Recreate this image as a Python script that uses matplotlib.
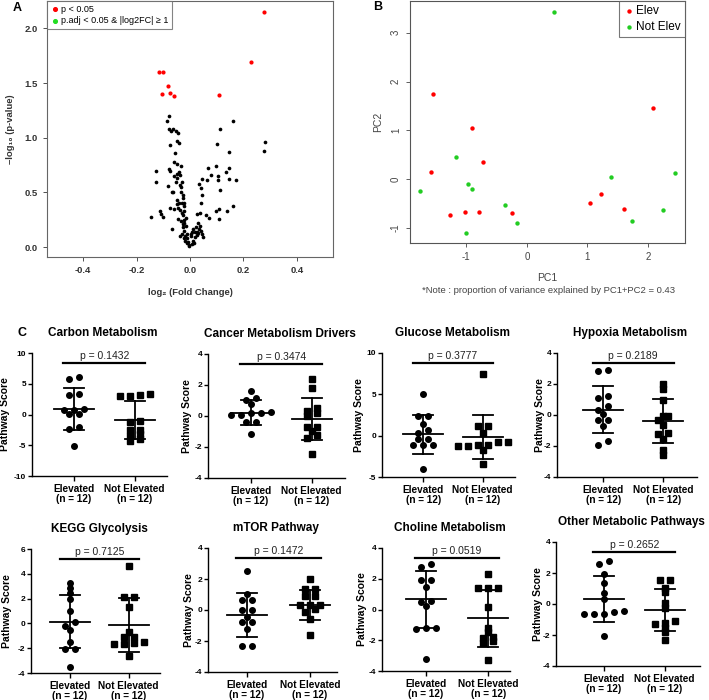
import numpy as np
import matplotlib
matplotlib.use('Agg')
import matplotlib.pyplot as plt
import matplotlib.transforms as mtransforms

plt.rcParams['font.family'] = ['Liberation Sans', 'DejaVu Sans']
plt.rcParams['axes.unicode_minus'] = False

W, H = 709, 700

# ---------------- A: volcano data ----------------
sig_fc = [0.276, 0.227, -0.117, -0.100, -0.083, -0.103, -0.074, -0.058, 0.109]
sig_p = [2.15, 1.69, 1.60, 1.60, 1.47, 1.40, 1.41, 1.38, 1.39]

ns_fc = [-0.079, -0.085, -0.077, -0.070, -0.062, -0.054, -0.044, -0.050, -0.042, -0.073,
         -0.057, -0.058, -0.049, -0.079, -0.074, -0.033, -0.129, -0.126, -0.050, -0.060,
         -0.047, -0.054, -0.039, -0.034, -0.081, -0.068, -0.063, -0.032, -0.049, -0.042,
         -0.047, -0.030, -0.024, -0.022, -0.076, -0.061, -0.114, -0.109, -0.102, -0.146,
         -0.066, -0.044, -0.039, -0.030, -0.027, -0.022, -0.045, -0.035, -0.024, -0.028,
         -0.021, -0.026, -0.022, -0.016, -0.030, -0.036, -0.021, -0.017, -0.011, -0.005,
         -0.003, -0.013, -0.018, -0.015, -0.031, -0.028, -0.025, -0.040, -0.036, -0.010,
         -0.008,
         0.161, 0.113, 0.101, 0.146, 0.280, 0.278, 0.067, 0.096, 0.145, 0.135,
         0.079, 0.106, 0.173, 0.044, 0.064, 0.105, 0.146, 0.034, 0.040, 0.111,
         0.044, 0.042, 0.161, 0.109, 0.096, 0.139, 0.025, 0.036, 0.059, 0.072,
         0.107, 0.030, 0.038, 0.033, 0.043, 0.046, 0.050, 0.022, 0.018, 0.012,
         0.027, 0.020, 0.010, 0.015, 0.006, 0.025, 0.031, 0.005, 0.008, 0.002]
ns_p = [1.20, 1.15, 1.08, 1.06, 1.08, 1.06, 1.04, 0.97, 0.95, 0.93,
        0.86, 0.78, 0.76, 0.71, 0.70, 0.74, 0.70, 0.60, 0.67, 0.65,
        0.63, 0.60, 0.57, 0.55, 0.56, 0.50, 0.50, 0.50, 0.43, 0.40,
        0.39, 0.40, 0.40, 0.38, 0.36, 0.35, 0.33, 0.30, 0.28, 0.28,
        0.17, 0.36, 0.34, 0.31, 0.29, 0.33, 0.26, 0.24, 0.25, 0.21,
        0.22, 0.18, 0.15, 0.19, 0.12, 0.10, 0.08, 0.06, 0.04, 0.01,
        0.02, 0.12, 0.10, 0.27, 0.60, 0.48, 0.45, 0.69, 0.66, 0.08,
        0.05,
        1.15, 1.08, 0.94, 0.87, 0.96, 0.88, 0.72, 0.74, 0.72, 0.69,
        0.66, 0.65, 0.61, 0.62, 0.61, 0.61, 0.62, 0.58, 0.54, 0.52,
        0.48, 0.40, 0.38, 0.35, 0.33, 0.33, 0.30, 0.31, 0.29, 0.27,
        0.26, 0.22, 0.19, 0.17, 0.15, 0.12, 0.09, 0.18, 0.14, 0.17,
        0.11, 0.09, 0.06, 0.04, 0.03, 0.14, 0.13, 0.10, 0.14, 0.12]

# ---------------- B: PCA data ----------------
elev_pc1 = [-1.55, -1.58, -0.905, -0.72, -1.27, -1.03, -0.79, -0.25, 1.04, 1.23, 1.61, 2.08]
elev_pc2 = [1.74, 0.15, 1.04, 0.34, -0.74, -0.68, -0.68, -0.69, -0.50, -0.31, -0.62, 1.46]
nelev_pc1 = [0.44, -1.17, -1.77, -0.965, -0.90, -0.36, -0.165, -1.01, 1.39, 2.44, 2.25, 1.73]
nelev_pc2 = [3.43, 0.45, -0.25, -0.11, -0.21, -0.54, -0.90, -1.11, 0.05, 0.13, -0.64, -0.85]

# ---------------- C: pathway scores ----------------
titles = ['Carbon Metabolism', 'Cancer Metabolism Drivers', 'Glucose Metabolism', 'Hypoxia Metabolism',
          'KEGG Glycolysis', 'mTOR Pathway', 'Choline Metabolism', 'Other Metabolic Pathways']
pvals = ['0.1432', '0.3474', '0.3777', '0.2189', '0.7125', '0.1472', '0.0519', '0.2652']
ylims = [(-10, 10), (-4, 4), (-5, 10), (-4, 4), (-4, 6), (-4, 4), (-4, 4), (-4, 4)]
ytick_steps = [5, 2, 5, 2, 2, 2, 2, 2]

elev = [
    [5.8, 6.05, 3.35, 3.25, 0.78, 0.16, 0.16, 0.86, 0.8, -2.1, -2.4, -5.1],
    [1.61, 1.03, 1.18, 0.77, 0.17, 0.06, 0.06, 0.28, 0.2, -0.41, -0.41, -1.18],
    [5.04, 2.38, 2.38, 1.37, 0.69, 0.36, -0.44, -0.44, -1.13, -1.13, -1.13, -4.03],
    [2.82, 2.88, 1.1, 1.23, 0.34, 0.56, 0.09, -0.34, -0.34, -0.73, -1.91, -1.68],
    [2.88, 3.23, 2.42, 1.96, 1.02, 0.08, -0.54, -0.19, -1.53, -2.07, -2.07, -3.49],
    [2.52, 1.05, 0.62, 0.62, -0.02, -0.02, -0.45, -0.77, -0.77, -1.2, -2.32, -2.32],
    [2.75, 2.95, 1.93, 1.93, 1.47, 0.56, 0.48, 0.24, -1.21, -1.21, -1.28, -3.21],
    [2.8, 2.58, 1.91, 1.38, 0.69, 0.3, -0.43, -0.65, -0.49, -0.65, -0.65, -2.06],
]
nelev = [
    [2.97, 3.03, 3.1, 3.3, -1.3, -1.13, -2.5, -2.5, -3.46, -3.24, -4.3, -4.0],
    [2.37, 1.83, 0.49, 0.17, 0.32, 0.02, -0.69, -0.69, -0.97, -1.23, -1.44, -2.47],
    [7.42, 1.17, 1.17, 0.28, -0.81, -1.25, -1.13, -1.13, -0.81, -1.25, -1.77, -3.47],
    [2.02, 1.7, 0.95, -0.09, -0.04, -0.3, -0.62, -1.14, -1.2, -1.53, -2.28, -2.6],
    [4.62, 2.15, 2.15, 1.29, -0.73, -1.08, -1.08, -1.48, -1.67, -1.61, -1.69, -2.63],
    [1.98, 1.38, 1.38, 0.9, 0.9, 0.3, 0.3, 0.3, 0.09, -0.1, -0.58, -1.63],
    [2.3, 1.43, 1.43, 1.43, 0.17, -1.21, -1.76, -1.47, -1.87, -2.19, -2.08, -3.28],
    [1.55, 1.55, 1.05, 0.8, 0.09, -0.28, -1.25, -1.29, -1.1, -1.53, -1.78, -2.32],
]
elev_mean = [0.86, 0.22, 0.16, 0.34, 0.13, -0.34, 0.67, 0.32]
elev_sd = [3.38, 0.80, 2.32, 1.50, 2.15, 1.41, 1.86, 1.50]
nelev_mean = [-0.86, -0.19, -0.16, -0.39, -0.13, 0.32, -0.58, -0.39]
nelev_sd = [3.10, 1.37, 2.72, 1.41, 2.17, 0.99, 1.84, 1.35]
cat_labels = ['Elevated\n(n = 12)', 'Not Elevated\n(n = 12)']


def px_axes(fig, left, top, right, bottom):
    return fig.add_axes([left / W, 1 - bottom / H, (right - left) / W, (bottom - top) / H])


def swarm(vals, h, step):
    vals = np.asarray(vals, dtype=float)
    order = np.argsort(vals)
    xs = np.zeros(len(vals))
    groups = []
    for i in order:
        if groups and vals[i] - vals[groups[-1][0]] < h:
            groups[-1].append(i)
        else:
            groups.append([i])
    for g in groups:
        n = len(g)
        for k, i in enumerate(g):
            xs[i] = (k - (n - 1) / 2) * step
    return xs


fig = plt.figure(figsize=(W / 100, H / 100), dpi=100)

# ---------------- panel A ----------------
axA = px_axes(fig, 47, 1, 333, 257)
axA.scatter(ns_fc, ns_p, s=7, color='black', lw=0)
axA.scatter(sig_fc, sig_p, s=9, color='red', lw=0)
axA.scatter([], [], s=7, color='red', label='p < 0.05')
axA.scatter([], [], s=7, color='#22dd22', label='p.adj < 0.05 & |log2FC| ≥ 1')
axA.set_xlim(-0.535, 0.535)
axA.set_ylim(-0.09, 2.25)
axA.set_xticks([-0.4, -0.2, 0.0, 0.2, 0.4])
axA.set_xticklabels(['-0.4', '-0.2', '0.0', '0.2', '0.4'])
axA.set_yticks([0.0, 0.5, 1.0, 1.5, 2.0])
axA.set_yticklabels(['0.0', '0.5', '1.0', '1.5', '2.0'])
axA.tick_params(labelsize=6.8, length=3, width=0.6, colors='#333333')
for lab in axA.get_xticklabels() + axA.get_yticklabels():
    lab.set_fontweight('bold')
for sp in axA.spines.values():
    sp.set_color('#666666')
    sp.set_linewidth(0.8)
axA.set_xlabel('log₂ (Fold Change)', fontsize=6.8, fontweight='bold', color='#333333', labelpad=9)
axA.set_ylabel('–log₁₀ (p-value)', fontsize=6.8, fontweight='bold', color='#333333')
axA.yaxis.set_label_coords((15 - 47) / 286, 0.5)
legA = axA.legend(loc='upper left', fontsize=6.5, frameon=True, fancybox=False, borderaxespad=0,
                  handletextpad=0.1, handlelength=1.0, borderpad=0.4, labelspacing=0.3)
legA.get_frame().set_edgecolor('#666666')
legA.get_frame().set_linewidth(0.8)
fig.text(13 / W, 1 - 8 / H, 'A', fontsize=9, fontweight='bold', va='center')

# ---------------- panel B ----------------
axB = px_axes(fig, 410, 1, 685, 243)
axB.scatter(elev_pc1, elev_pc2, s=10, color='red', lw=0, label='Elev')
axB.scatter(nelev_pc1, nelev_pc2, s=10, color='#22cc22', lw=0, label='Not Elev')
axB.set_xlim(-1.93, 2.61)
axB.set_ylim(-1.31, 3.65)
axB.set_xticks([-1, 0, 1, 2])
axB.set_yticks([-1, 0, 1, 2, 3])
axB.tick_params(labelsize=7, length=3, width=0.6, colors='#444444')
for lab in axB.get_yticklabels():
    lab.set_rotation(90)
    lab.set_va('center')
for sp in axB.spines.values():
    sp.set_color('#555555')
    sp.set_linewidth(0.8)
axB.set_xlabel('PC1', fontsize=7.5, color='#444444', labelpad=8)
axB.set_ylabel('PC2', fontsize=7.5, color='#444444', labelpad=6)
legB = axB.legend(loc='upper right', fontsize=8.5, frameon=True, fancybox=False, borderaxespad=0,
                  handletextpad=0.1, handlelength=1.0, borderpad=0.35, labelspacing=0.3)
legB.get_frame().set_edgecolor('#555555')
legB.get_frame().set_linewidth(0.8)
fig.text(548 / W, 1 - 290 / H, '*Note : proportion of variance explained by PC1+PC2 = 0.43',
         fontsize=6.8, color='#444444', ha='center', va='center')
fig.text(373 / W, 1 - 7 / H, 'B', fontsize=9, fontweight='bold', va='center')

# ---------------- panel C ----------------
boxes = [(32, 353, 167, 476), (208, 354, 345, 478), (382, 353, 515, 477), (557, 353, 697, 477),
         (31, 549, 160, 673), (208, 548, 337, 672), (382, 548, 510, 671), (556, 542, 700, 666)]
cat_px = [(73.7, 134.7), (250.7, 311.7), (423.3, 482.7), (603.3, 663.3),
          (69.7, 128.7), (246.7, 310.0), (425.7, 488.3), (603.7, 664.7)]
ylabel_px = [10, 192, 364, 545, 12, 194, 367, 543]

for i in range(8):
    left, top, right, bottom = boxes[i]
    c0, c1 = cat_px[i]
    unit = c1 - c0
    ax = px_axes(fig, left, top, right, bottom)
    ylo, yhi = ylims[i]
    h = 0.03 * (yhi - ylo)
    step = 10.0 / unit

    groups = [(elev[i], elev_mean[i], elev_sd[i], 'o', 0),
              (nelev[i], nelev_mean[i], nelev_sd[i], 's', 1)]
    for vals, m, sd, mk, xc in groups:
        xs = xc + swarm(vals, h, step)
        ax.plot(xs, vals, linestyle='none', marker=mk, markersize=4.0 if mk == 'o' else 3.7,
                color='black', zorder=3)
        ax.plot([xc - 20 / unit, xc + 20 / unit], [m, m], color='black', lw=1.3, zorder=4)
        ax.plot([xc, xc], [m - sd, m + sd], color='black', lw=1.3, zorder=4)
        ax.plot([xc - 10 / unit, xc + 10 / unit], [m + sd, m + sd], color='black', lw=1.3, zorder=4)
        ax.plot([xc - 10 / unit, xc + 10 / unit], [m - sd, m - sd], color='black', lw=1.3, zorder=4)

    trans = mtransforms.blended_transform_factory(ax.transData, ax.transAxes)
    ax.plot([-0.17, 1.17], [0.92, 0.92], color='black', lw=1.6, transform=trans, clip_on=False)
    ax.text(0.5, 0.935, 'p = ' + pvals[i], transform=trans, ha='center', va='bottom',
            fontsize=7.5, color='#222222')

    ax.set_xlim((left - c0) / unit, (right - c0) / unit)
    ax.set_ylim(ylo, yhi)
    ax.set_yticks(np.arange(ylo, yhi + 0.01, ytick_steps[i]))
    ax.set_xticks([0, 1])
    ax.set_xticklabels(cat_labels, fontsize=7.2, fontweight='bold', linespacing=1.05)
    for lab in ax.get_yticklabels():
        lab.set_fontweight('bold')
    ax.tick_params(axis='y', labelsize=6, length=3, width=1.0, pad=1.2)
    ax.tick_params(axis='x', length=3.5, width=1.0, pad=2)
    ax.spines['top'].set_visible(False)
    ax.spines['right'].set_visible(False)
    ax.spines['left'].set_linewidth(1.0)
    ax.spines['bottom'].set_linewidth(1.0)
    ax.set_ylabel('Pathway Score', fontsize=7.5, fontweight='bold')
    ax.yaxis.set_label_coords((ylabel_px[i] - left) / (right - left), 0.5)
    fig.text((left + right) / 2 / W + 0.005, 1 - (top - 20) / H, titles[i],
             fontsize=8.5, fontweight='bold', ha='center', va='center')

fig.text(18 / W, 1 - 333 / H, 'C', fontsize=9, fontweight='bold', va='center')

fig.savefig('out.png', dpi=100)
